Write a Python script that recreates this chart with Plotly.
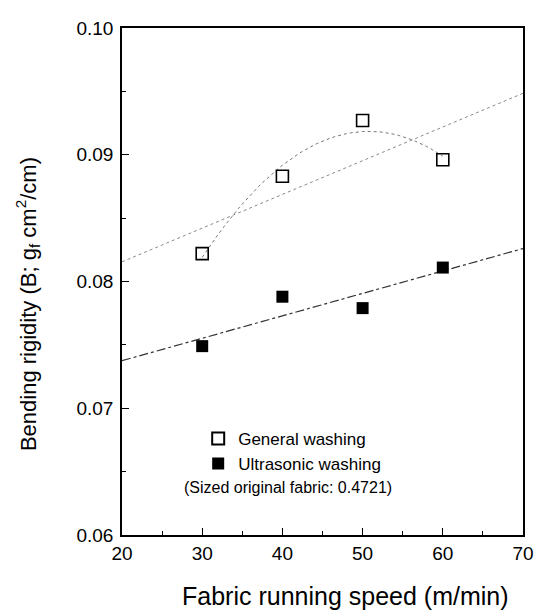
import numpy as np
import plotly.graph_objects as go

# ---- data ----
speed = [30, 40, 50, 60]                                  # Fabric running speed (m/min)
general_washing = [0.0822, 0.0883, 0.0927, 0.0896]        # Bending rigidity, general washing
ultrasonic_washing = [0.0749, 0.0788, 0.0779, 0.0811]     # Bending rigidity, ultrasonic washing

x_ticks = [20, 30, 40, 50, 60, 70]
y_ticks = [0.06, 0.07, 0.08, 0.09, 0.10]
y_tick_text = ["0.06", "0.07", "0.08", "0.09", "0.10"]

x_title = "Fabric running speed (m/min)"
y_title = "Bending rigidity (B; g<sub>f</sub> cm<sup>2</sup>/cm)"
note = "(Sized original fabric: 0.4721)"

linear_fit_range = (20, 70)
quad_fit_range = (30, 60)

# ---- fits derived from the data ----
lin_x = np.linspace(*linear_fit_range, 2)
gen_lin = np.polyval(np.polyfit(speed, general_washing, 1), lin_x)
ult_lin = np.polyval(np.polyfit(speed, ultrasonic_washing, 1), lin_x)
quad_x = np.linspace(*quad_fit_range, 61)
gen_quad = np.polyval(np.polyfit(speed, general_washing, 2), quad_x)

FONT = "Liberation Sans, Arial, sans-serif"

fig = go.Figure()
fig.add_trace(go.Scatter(x=lin_x, y=gen_lin, mode="lines", showlegend=False,
                         line=dict(color="#8a8a8a", width=1, dash="dot"), hoverinfo="skip"))
fig.add_trace(go.Scatter(x=quad_x, y=gen_quad, mode="lines", showlegend=False,
                         line=dict(color="#777777", width=1, dash="dot"), hoverinfo="skip"))
fig.add_trace(go.Scatter(x=lin_x, y=ult_lin, mode="lines", showlegend=False,
                         line=dict(color="#333333", width=1.2, dash="dashdot"), hoverinfo="skip"))
fig.add_trace(go.Scatter(x=speed, y=general_washing, mode="markers", name="General washing",
                         marker=dict(symbol="square-open", size=12, color="black",
                                     line=dict(width=1.6, color="black"))))
fig.add_trace(go.Scatter(x=speed, y=ultrasonic_washing, mode="markers", name="Ultrasonic washing",
                         marker=dict(symbol="square", size=12, color="black",
                                     line=dict(width=0))))

axis_common = dict(showline=True, linecolor="black", linewidth=1.5, mirror=True,
                   ticks="inside", ticklen=7, tickwidth=1.2, tickcolor="black",
                   showgrid=False, zeroline=False,
                   tickfont=dict(family=FONT, size=19, color="black"))

fig.update_xaxes(range=[20, 70], tickvals=x_ticks,
                 minor=dict(dtick=5, ticks="inside", ticklen=4, tickcolor="black"),
                 **axis_common)
fig.update_yaxes(range=[0.06, 0.10], tickvals=y_ticks, ticktext=y_tick_text,
                 ticklabelstandoff=3,
                 minor=dict(dtick=0.005, ticks="inside", ticklen=4, tickcolor="black"),
                 **axis_common)

# axis titles (placed as in the reference, slightly off-centre)
fig.add_annotation(text=x_title, xref="paper", yref="paper", x=0.557, y=-0.12,
                   xanchor="center", yanchor="middle", showarrow=False,
                   font=dict(family=FONT, size=25, color="black"))
fig.add_annotation(text=y_title, xref="paper", yref="paper", x=-0.235, y=0.455,
                   xanchor="center", yanchor="middle", showarrow=False, textangle=-90,
                   font=dict(family=FONT, size=22, color="black"))

fig.add_annotation(text=note, xref="paper", yref="paper",
                   x=0.149, y=0.093, xanchor="left", yanchor="middle", showarrow=False,
                   font=dict(family=FONT, size=16, color="black"))

# page has an 8px body margin; size/margins compensate so the plot area sits where the reference has it
fig.update_layout(
    width=536, height=604,
    margin=dict(l=114, r=15, t=10, b=77),
    paper_bgcolor="white", plot_bgcolor="white",
    legend=dict(x=0.19, y=0.225, xanchor="left", yanchor="top",
                bgcolor="rgba(0,0,0,0)", font=dict(family=FONT, size=17, color="black"),
                tracegroupgap=0, itemsizing="constant"),
)

fig.write_html("out.html")
